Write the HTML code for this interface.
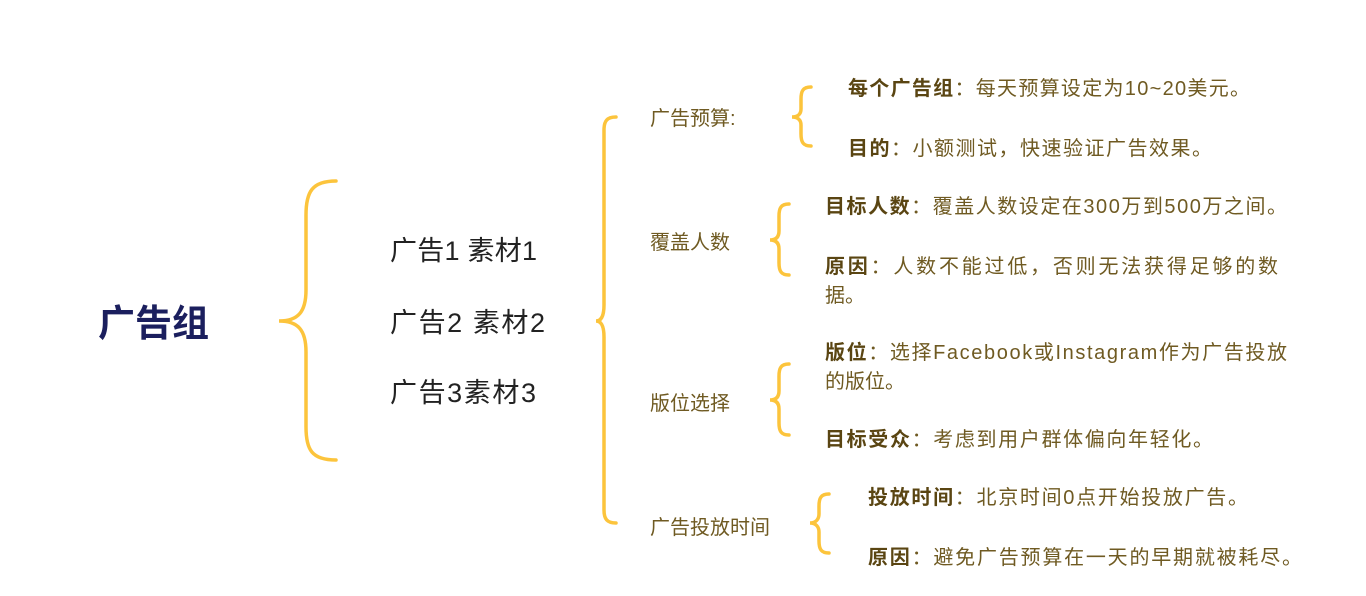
<!DOCTYPE html>
<html><head><meta charset="utf-8"><style>
html,body{margin:0;padding:0;background:#fff;}
svg{display:block;}
text{font-family:"Liberation Sans","Noto Sans CJK SC",sans-serif;}
.d{font-size:20px;fill:#6f5a22;}
.d tspan.b{font-weight:bold;fill:#5a4512;}
.l{font-size:20px;fill:#6f5a22;}
.i{font-size:27px;fill:#222;}
</style></head><body>
<svg width="1366" height="596" viewBox="0 0 1366 596" xmlns="http://www.w3.org/2000/svg">
<g fill="none" stroke="#fcc43c" stroke-width="3.5" stroke-linecap="round">
<path d="M336 181 C312 181 306 192 306 215 L306 290 C306 312 298 321 279 321 C298 321 306 330 306 352 L306 427 C306 450 312 460 336 460"/>
<path d="M616 117 C607 117 604 121 604 130 L604 305 C604 316 601 321 596 321 C601 321 604 326 604 337 L604 510 C604 519 607 523 616 523"/>
<path d="M811 87 C803 87 801 91 801 99 L801 109 C801 114 798 117 792 117 C798 117 801 120 801 125 L801 134 C801 142 803 146 811 146"/>
<path d="M789 204 C781 204 779 208 779 216 L779 231 C779 237 776 240 770 240 C776 240 779 243 779 249 L779 263 C779 271 781 275 789 275"/>
<path d="M789 364 C781 364 779 368 779 376 L779 391 C779 397 776 400 770 400 C776 400 779 403 779 409 L779 423 C779 431 781 435 789 435"/>
<path d="M829 494 C821 494 819 498 819 506 L819 514 C819 519 816 523 810 523 C816 523 819 527 819 532 L819 541 C819 549 821 553 829 553"/>
</g>
<text x="98" y="336" font-size="37" font-weight="bold" fill="#1b1f5e">广告组</text>
<text class="i" x="390" y="260" textLength="147">广告1 素材1</text>
<text class="i" x="390" y="332" textLength="155">广告2 素材2</text>
<text class="i" x="390" y="402" textLength="146">广告3素材3</text>
<text class="l" x="650" y="125">广告预算:</text>
<text class="l" x="650" y="249">覆盖人数</text>
<text class="l" x="650" y="410">版位选择</text>
<text class="l" x="650" y="534">广告投放时间</text>
<text class="d" x="848" y="95" textLength="402"><tspan class="b">每个广告组</tspan>：每天预算设定为10~20美元。</text>
<text class="d" x="848" y="155" textLength="364"><tspan class="b">目的</tspan>：小额测试，快速验证广告效果。</text>
<text class="d" x="825" y="213" textLength="462"><tspan class="b">目标人数</tspan>：覆盖人数设定在300万到500万之间。</text>
<text class="d" x="825" y="273" textLength="453"><tspan class="b">原因</tspan>：人数不能过低，否则无法获得足够的数</text>
<text class="d" x="825" y="302">据。</text>
<text class="d" x="825" y="359" textLength="462"><tspan class="b">版位</tspan>：选择Facebook或Instagram作为广告投放</text>
<text class="d" x="825" y="388">的版位。</text>
<text class="d" x="825" y="446" textLength="388"><tspan class="b">目标受众</tspan>：考虑到用户群体偏向年轻化。</text>
<text class="d" x="868" y="504" textLength="380"><tspan class="b">投放时间</tspan>：北京时间0点开始投放广告。</text>
<text class="d" x="868" y="564" textLength="434"><tspan class="b">原因</tspan>：避免广告预算在一天的早期就被耗尽。</text>
</svg>
</body></html>
